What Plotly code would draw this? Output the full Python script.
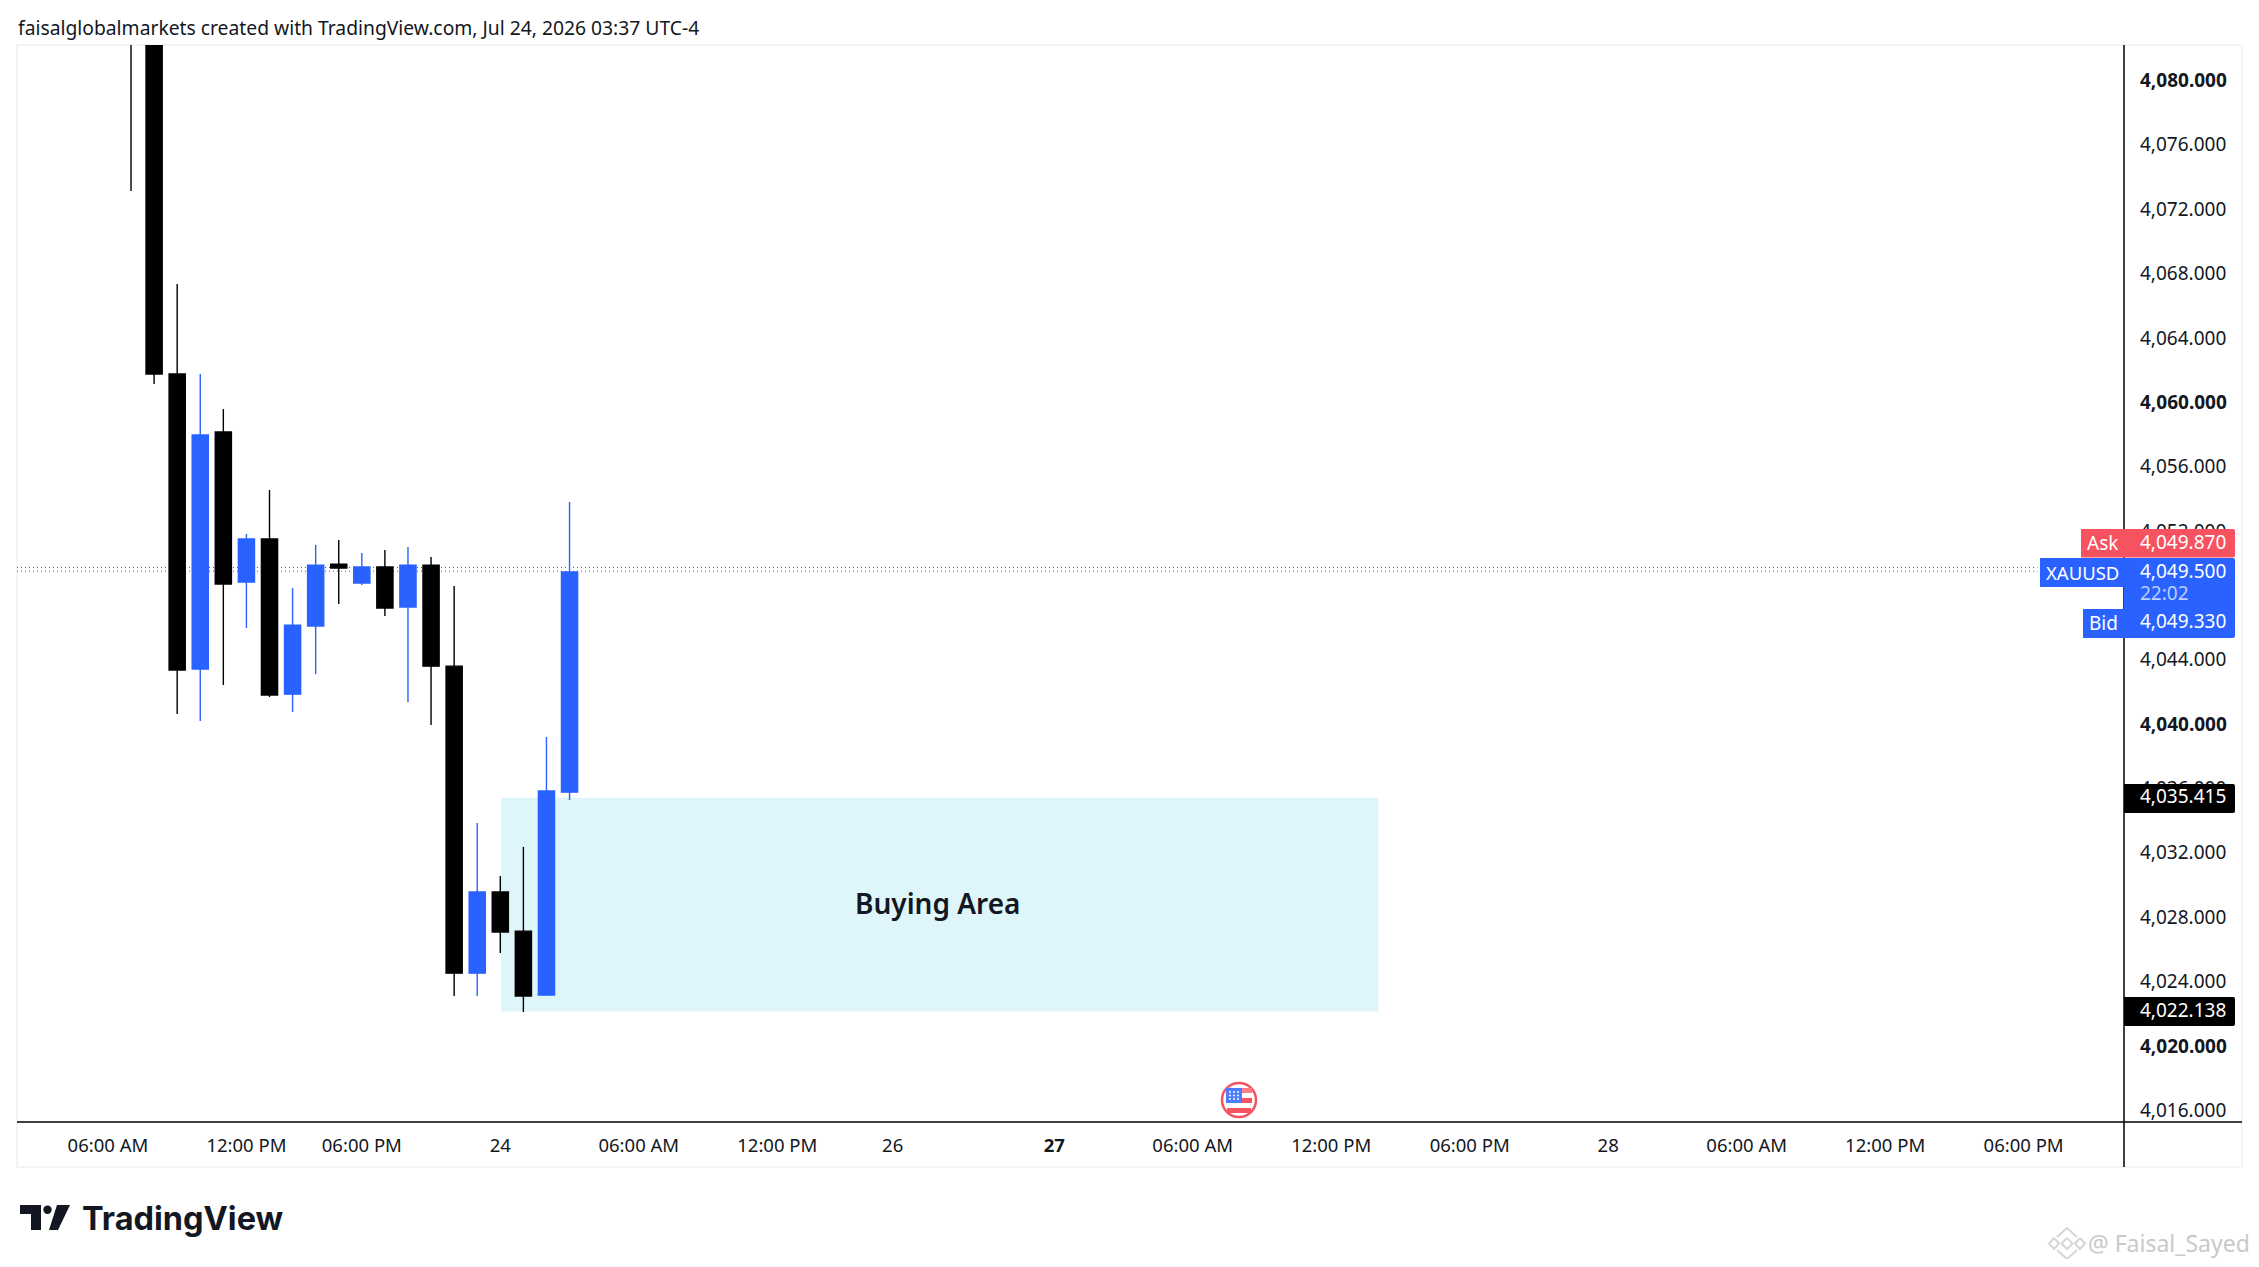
import plotly.graph_objects as go

# hourly bars, index 0 is the first one on screen
bar_index = list(range(20))
opens = [4086.0, 4083.5, 4061.75, 4043.42, 4058.15, 4048.83, 4051.50, 4041.86, 4046.09, 4049.94,
         4048.76, 4049.76, 4047.27, 4049.88, 4043.60, 4024.52, 4029.56, 4027.13, 4023.16, 4035.77]
highs = [4095.0, 4084.0, 4067.35, 4061.75, 4059.58, 4051.81, 4054.54, 4048.45, 4051.12, 4051.44,
         4050.63, 4050.81, 4051.00, 4050.38, 4048.58, 4033.85, 4030.55, 4032.36, 4039.19, 4053.80]
lows = [4073.13, 4061.13, 4040.62, 4040.19, 4042.42, 4045.97, 4041.68, 4040.75, 4043.11, 4047.46,
        4048.64, 4046.71, 4041.37, 4039.94, 4023.10, 4023.10, 4025.77, 4022.10, 4023.10, 4035.28]
closes = [4083.5, 4061.75, 4043.36, 4057.96, 4048.70, 4051.50, 4041.80, 4046.15, 4049.88, 4049.70,
          4049.76, 4047.21, 4049.88, 4043.60, 4024.52, 4029.56, 4027.07, 4023.10, 4035.84, 4049.45]

price_ticks = [4016, 4020, 4024, 4028, 4032, 4036, 4040, 4044, 4048, 4052, 4056, 4060, 4064, 4068, 4072, 4076, 4080]
price_bold = [4020, 4040, 4060, 4080]

time_ticks = [-1, 5, 10, 16, 22, 28, 33, 40, 46, 52, 58, 64, 70, 76, 82]
time_labels = ["06:00 AM", "12:00 PM", "06:00 PM", "24", "06:00 AM", "12:00 PM", "26", "<b>27</b>",
               "06:00 AM", "12:00 PM", "06:00 PM", "28", "06:00 AM", "12:00 PM", "06:00 PM"]

zone_start, zone_end = 16.03, 54.05
zone_top, zone_bottom = 4035.415, 4022.138
ask_line, last_price = 4049.73, 4049.5
line_end = 82.6

INK = "#131722"
BLUE = "#2962FF"
RED = "#F7525F"
MARK = "#D6D6D6"
FONT = "Noto Sans"

# the page body keeps its 8px margin, so the figure is 16px smaller than the window
PAGE = 8
W, H = 2259 - 2 * PAGE, 1267 - 2 * PAGE
L, R, T, B = 17, 2124, 45, 1122  # plot box in window pixels


def px(x):
    return (x - L) / (R - L)


def py(y):
    return (B - y) / (B - T)


def box(x0, y0, x1, y1, color, r=0):
    if r:
        d = (f"M{px(x0)},{py(y0)} L{px(x1 - r)},{py(y0)} Q{px(x1)},{py(y0)} {px(x1)},{py(y0 + r)} "
             f"L{px(x1)},{py(y1 - r)} Q{px(x1)},{py(y1)} {px(x1 - r)},{py(y1)} L{px(x0)},{py(y1)} Z")
        return dict(type="path", path=d, xref="paper", yref="paper", fillcolor=color, line_width=0)
    return dict(type="rect", xref="paper", yref="paper", x0=px(x0), x1=px(x1), y0=py(y0), y1=py(y1),
                fillcolor=color, line_width=0)


def rule(x0, y0, x1, y1, color="#000000", width=1.5):
    return dict(type="line", xref="paper", yref="paper", x0=px(x0), x1=px(x1), y0=py(y0), y1=py(y1),
                line=dict(color=color, width=width))


def poly(points, color):
    d = "M" + " L".join(f"{px(a)},{py(b)}" for a, b in points) + " Z"
    return dict(type="path", path=d, xref="paper", yref="paper", fillcolor=color, line_width=0)


def dot(cx, cy, r, color):
    return dict(type="circle", xref="paper", yref="paper", x0=px(cx - r), x1=px(cx + r), y0=py(cy + r), y1=py(cy - r),
                fillcolor=color, line_width=0)


def outline(points, color=MARK, width=2):
    d = "M" + " L".join(f"{px(a)},{py(b)}" for a, b in points)
    return dict(type="path", path=d, xref="paper", yref="paper", fillcolor="rgba(0,0,0,0)",
                line=dict(color=color, width=width))


def label(x, y, text, size=19, color=INK, anchor="center", family=FONT):
    return dict(xref="paper", yref="paper", x=px(x), y=py(y), text=text, showarrow=False,
                xanchor=anchor, yanchor="middle", align="left", borderpad=0,
                font=dict(family=family, size=size, color=color))


fig = go.Figure(go.Candlestick(
    x=bar_index, open=opens, high=highs, low=lows, close=closes,
    increasing=dict(fillcolor=BLUE, line=dict(color=BLUE, width=1.4)),
    decreasing=dict(fillcolor="#000000", line=dict(color="#000000", width=1.4)),
    whiskerwidth=0, showlegend=False,
))

shapes = [
    # outer frame
    dict(type="rect", xref="paper", yref="paper", x0=0, x1=px(2242), y0=py(1167), y1=1,
         line=dict(color="#F3F4F6", width=2), fillcolor="rgba(0,0,0,0)", layer="below"),
    # the zone and the two dotted price lines go under the candles
    dict(type="rect", x0=zone_start, x1=zone_end, y0=zone_bottom, y1=zone_top,
         fillcolor="#DEF5F9", line_width=0, layer="below"),
    dict(type="line", x0=-4.94, x1=line_end, y0=ask_line, y1=ask_line, layer="below",
         line=dict(color="#5D606B", width=1, dash="1px,3px")),
    dict(type="line", x0=-4.94, x1=line_end, y0=last_price, y1=last_price, layer="below",
         line=dict(color=BLUE, width=1, dash="1px,3px")),
    # axes
    rule(2124, 45, 2124, 1167),
    rule(17, 1122, 2242, 1122),
    # price badges
    box(2081, 529, 2235, 557.5, RED, 2),
    box(2040, 558, 2124, 587, BLUE),
    box(2124, 558, 2235, 638, BLUE, 2),
    box(2083, 609, 2124, 638, BLUE),
    box(2124, 784, 2235, 813, "#000000", 2),
    box(2124, 997, 2235, 1026, "#000000", 2),
    # TradingView mark
    poly([(20, 1205), (41, 1205), (41, 1230), (31, 1230), (31, 1214), (20, 1214)], "#131722"),
    dot(47.5, 1209.8, 4.2, "#131722"),
    poly([(57, 1205), (70, 1205), (58, 1230), (49, 1230)], "#131722"),
    # US event flag
    dict(type="circle", xref="paper", yref="paper", x0=px(1222), x1=px(1256), y0=py(1117), y1=py(1083),
         fillcolor="#FFFFFF", line=dict(color=RED, width=2.5)),
    box(1226, 1088, 1242, 1103, "#4D7BFF"),
    box(1242, 1088, 1252, 1093, "#FB7E88"),
    box(1242, 1098, 1252, 1103, RED),
    box(1227, 1108, 1251, 1113, RED),
    # watermark logo, built from chevrons and small diamonds
    outline([(2057, 1237), (2067, 1228), (2077, 1237)]),
    outline([(2057, 1250), (2067, 1259), (2077, 1250)]),
    outline([(2054, 1238), (2059, 1243.5), (2054, 1249), (2049, 1243.5), (2054, 1238)]),
    outline([(2080, 1238), (2085, 1243.5), (2080, 1249), (2075, 1243.5), (2080, 1238)]),
    outline([(2067, 1238), (2072.5, 1243.5), (2067, 1249), (2061.5, 1243.5), (2067, 1238)]),
]
# stars of the flag, too small to be more than dots
for sx in (1230, 1234, 1238):
    for sy in (1092, 1095.5, 1099):
        shapes.append(dot(sx, sy, 1, "#FFFFFF"))

annotations = [
    label(17, 27, "faisalglobalmarkets created with TradingView.com, Jul 24, 2026 03:37 UTC-4", size=19.3, anchor="left"),
    dict(x=(zone_start + zone_end) / 2 - 0.1, y=(zone_top + zone_bottom) / 2, yshift=1.5, text="Buying Area",
         showarrow=False, font=dict(family=FONT, size=28, color=INK, weight=600), xanchor="center", yanchor="middle"),
    label(2102, 543, "Ask", color="#FFFFFF"),
    label(2082, 572, "XAUUSD", size=18.5, color="#FFFFFF"),
    label(2103, 623, "Bid", color="#FFFFFF"),
    label(2139, 541.5, "4,049.870", color="#FFFFFF", anchor="left"),
    label(2139, 570.5, "4,049.500", color="#FFFFFF", anchor="left"),
    label(2139, 593, "22:02", color="#BCCFFF", anchor="left"),
    label(2139, 621, "4,049.330", color="#FFFFFF", anchor="left"),
    label(2139, 796, f"{zone_top:,.3f}", color="#FFFFFF", anchor="left"),
    label(2139, 1010, f"{zone_bottom:,.3f}", color="#FFFFFF", anchor="left"),
    label(81, 1218, "<b>TradingView</b>", size=32.5, anchor="left", family="Inter"),
    label(2087, 1243, "@ Faisal_Sayed", size=23, color="#C9C9C9", anchor="left"),
]

fig.update_layout(
    width=W, height=H, autosize=False,
    margin=dict(l=L - PAGE, r=W + PAGE - R, t=T - PAGE, b=H + PAGE - B, pad=0),
    paper_bgcolor="#FFFFFF", plot_bgcolor="#FFFFFF",
    font=dict(family=FONT, size=19, color=INK),
    boxgap=0.3, boxgroupgap=0,
    shapes=shapes, annotations=annotations,
    xaxis=dict(range=[-4.94, 86.35], tickmode="array", tickvals=time_ticks, ticktext=time_labels,
               showgrid=False, zeroline=False, showline=False, ticks="", ticklabelstandoff=10,
               tickfont=dict(size=18.5), rangeslider=dict(visible=False)),
    yaxis=dict(range=[4015.27, 4082.2], side="right", tickmode="array", tickvals=price_ticks,
               ticktext=[f"<b>{p:,.3f}</b>" if p in price_bold else f"{p:,.3f}" for p in price_ticks],
               showgrid=False, zeroline=False, showline=False, ticks="", ticklabelstandoff=15),
)

fig.write_html("out.html")
